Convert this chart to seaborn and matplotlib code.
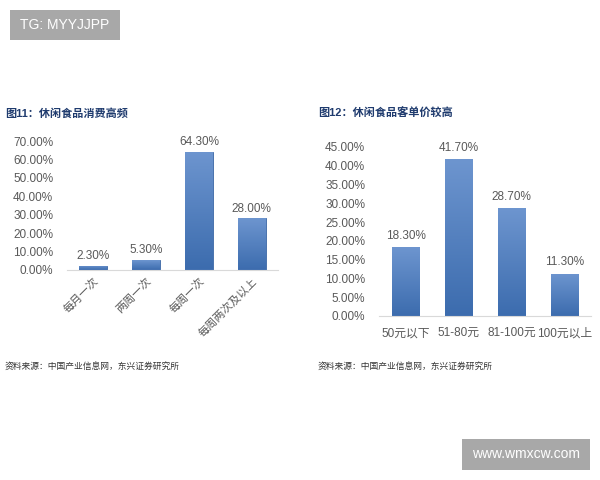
import matplotlib
matplotlib.use("Agg")
import numpy as np
import matplotlib.pyplot as plt
import seaborn as sns
import pandas as pd
from matplotlib.patches import Rectangle
from matplotlib.colors import LinearSegmentedColormap
from matplotlib.ticker import FuncFormatter, MultipleLocator

# data
freq_labels = ["每月一次", "两周一次", "每周一次", "每周两次及以上"]
freq_values = [2.3, 5.3, 64.3, 28.0]

price_labels = ["50元以下", "51-80元", "81-100元", "100元以上"]
price_values = [18.3, 41.7, 28.7, 11.3]

title_left = "图11：休闲食品消费高频"
title_right = "图12：休闲食品客单价较高"
source_text = "资料来源：中国产业信息网，东兴证券研究所"

sns.set_style("white")
plt.rcParams["font.family"] = ["Liberation Sans", "Noto Sans CJK SC", "DejaVu Sans"]

bar_color = "#4a7bbd"
edge_color = "#3d68a6"
text_gray = "#595959"
title_blue = "#1f3b6e"
grad = LinearSegmentedColormap.from_list("bar", ["#3c6cae", "#6d95cf"])

W, H = 600, 480
fig = plt.figure(figsize=(6, 4.8), dpi=100)


def px_axes(x0, y0, x1, y1):
    # pixel box (top-left origin) -> figure fraction
    return fig.add_axes([x0 / W, 1 - y1 / H, (x1 - x0) / W, (y1 - y0) / H])


def px_box(x0, y0, x1, y1, label):
    fig.patches.append(Rectangle((x0 / W, 1 - y1 / H), (x1 - x0) / W, (y1 - y0) / H,
                                 transform=fig.transFigure, fc="#a8a8a8", ec="none"))
    fig.text((x0 + x1) / 2 / W, 1 - (y0 + y1) / 2 / H, label, fontsize=10,
             color="white", ha="center", va="center")


def style_axes(ax, top, step):
    ax.set_ylim(0, top)
    ax.set_xlim(-0.5, 3.5)
    ax.yaxis.set_major_locator(MultipleLocator(step))
    ax.yaxis.set_major_formatter(FuncFormatter(lambda v, p: f"{v:.2f}%"))
    for s in ["top", "right", "left"]:
        ax.spines[s].set_visible(False)
    ax.spines["bottom"].set_color("#d9d9d9")
    ax.spines["bottom"].set_linewidth(0.8)
    ax.tick_params(axis="both", length=0, colors=text_gray, labelsize=8.5)
    ax.tick_params(axis="y", pad=10)
    ax.set_xlabel("")
    ax.set_ylabel("")


def shade_bars(ax):
    # vertical gradient inside each bar, darker at the bottom
    g = np.linspace(0, 1, 100).reshape(-1, 1)
    for p in ax.patches:
        x, y = p.get_x(), p.get_y()
        w, h = p.get_width(), p.get_height()
        im = ax.imshow(g, cmap=grad, origin="lower", aspect="auto",
                       extent=[x, x + w, y, y + h], zorder=p.get_zorder() + 0.1)
        im.set_clip_path(p)


def value_labels(ax, values):
    for i, v in enumerate(values):
        ax.text(i, v + ax.get_ylim()[1] * 0.03, f"{v:.2f}%", ha="center",
                va="bottom", fontsize=8.5, color=text_gray, clip_on=False)


# left chart
ax1 = px_axes(67, 141, 278, 270)
df1 = pd.DataFrame({"cat": freq_labels, "val": freq_values})
sns.barplot(data=df1, x="cat", y="val", ax=ax1, color=bar_color,
            edgecolor=edge_color, linewidth=0.6, width=0.53, saturation=1)
shade_bars(ax1)
style_axes(ax1, 70, 10)
value_labels(ax1, freq_values)
ax1.set_xticks(range(len(freq_labels)))
ax1.set_xticklabels(freq_labels, rotation=45, ha="right",
                    rotation_mode="anchor", fontsize=8, color=text_gray)
ax1.tick_params(axis="x", pad=4)

# right chart
ax2 = px_axes(379, 147, 591, 316)
df2 = pd.DataFrame({"cat": price_labels, "val": price_values})
sns.barplot(data=df2, x="cat", y="val", ax=ax2, color=bar_color,
            edgecolor=edge_color, linewidth=0.6, width=0.51, saturation=1)
shade_bars(ax2)
style_axes(ax2, 45, 5)
value_labels(ax2, price_values)
ax2.tick_params(axis="x", pad=8, labelsize=8.5)

# titles and sources
fig.text(5 / W, 1 - 113 / H, title_left, fontsize=8, fontweight="bold",
         color=title_blue, va="center")
fig.text(318 / W, 1 - 113 / H, title_right, fontsize=8, fontweight="bold",
         color=title_blue, va="center")
fig.text(5 / W, 1 - 367 / H, source_text, fontsize=6.3, style="italic",
         color="#333333", va="center")
fig.text(318 / W, 1 - 367 / H, source_text, fontsize=6.3, style="italic",
         color="#333333", va="center")

# watermark boxes
px_box(10, 10, 120, 40, "TG: MYYJJPP")
px_box(462, 439, 590, 470, "www.wmxcw.com")

fig.savefig("out.png", dpi=100, facecolor="white")
